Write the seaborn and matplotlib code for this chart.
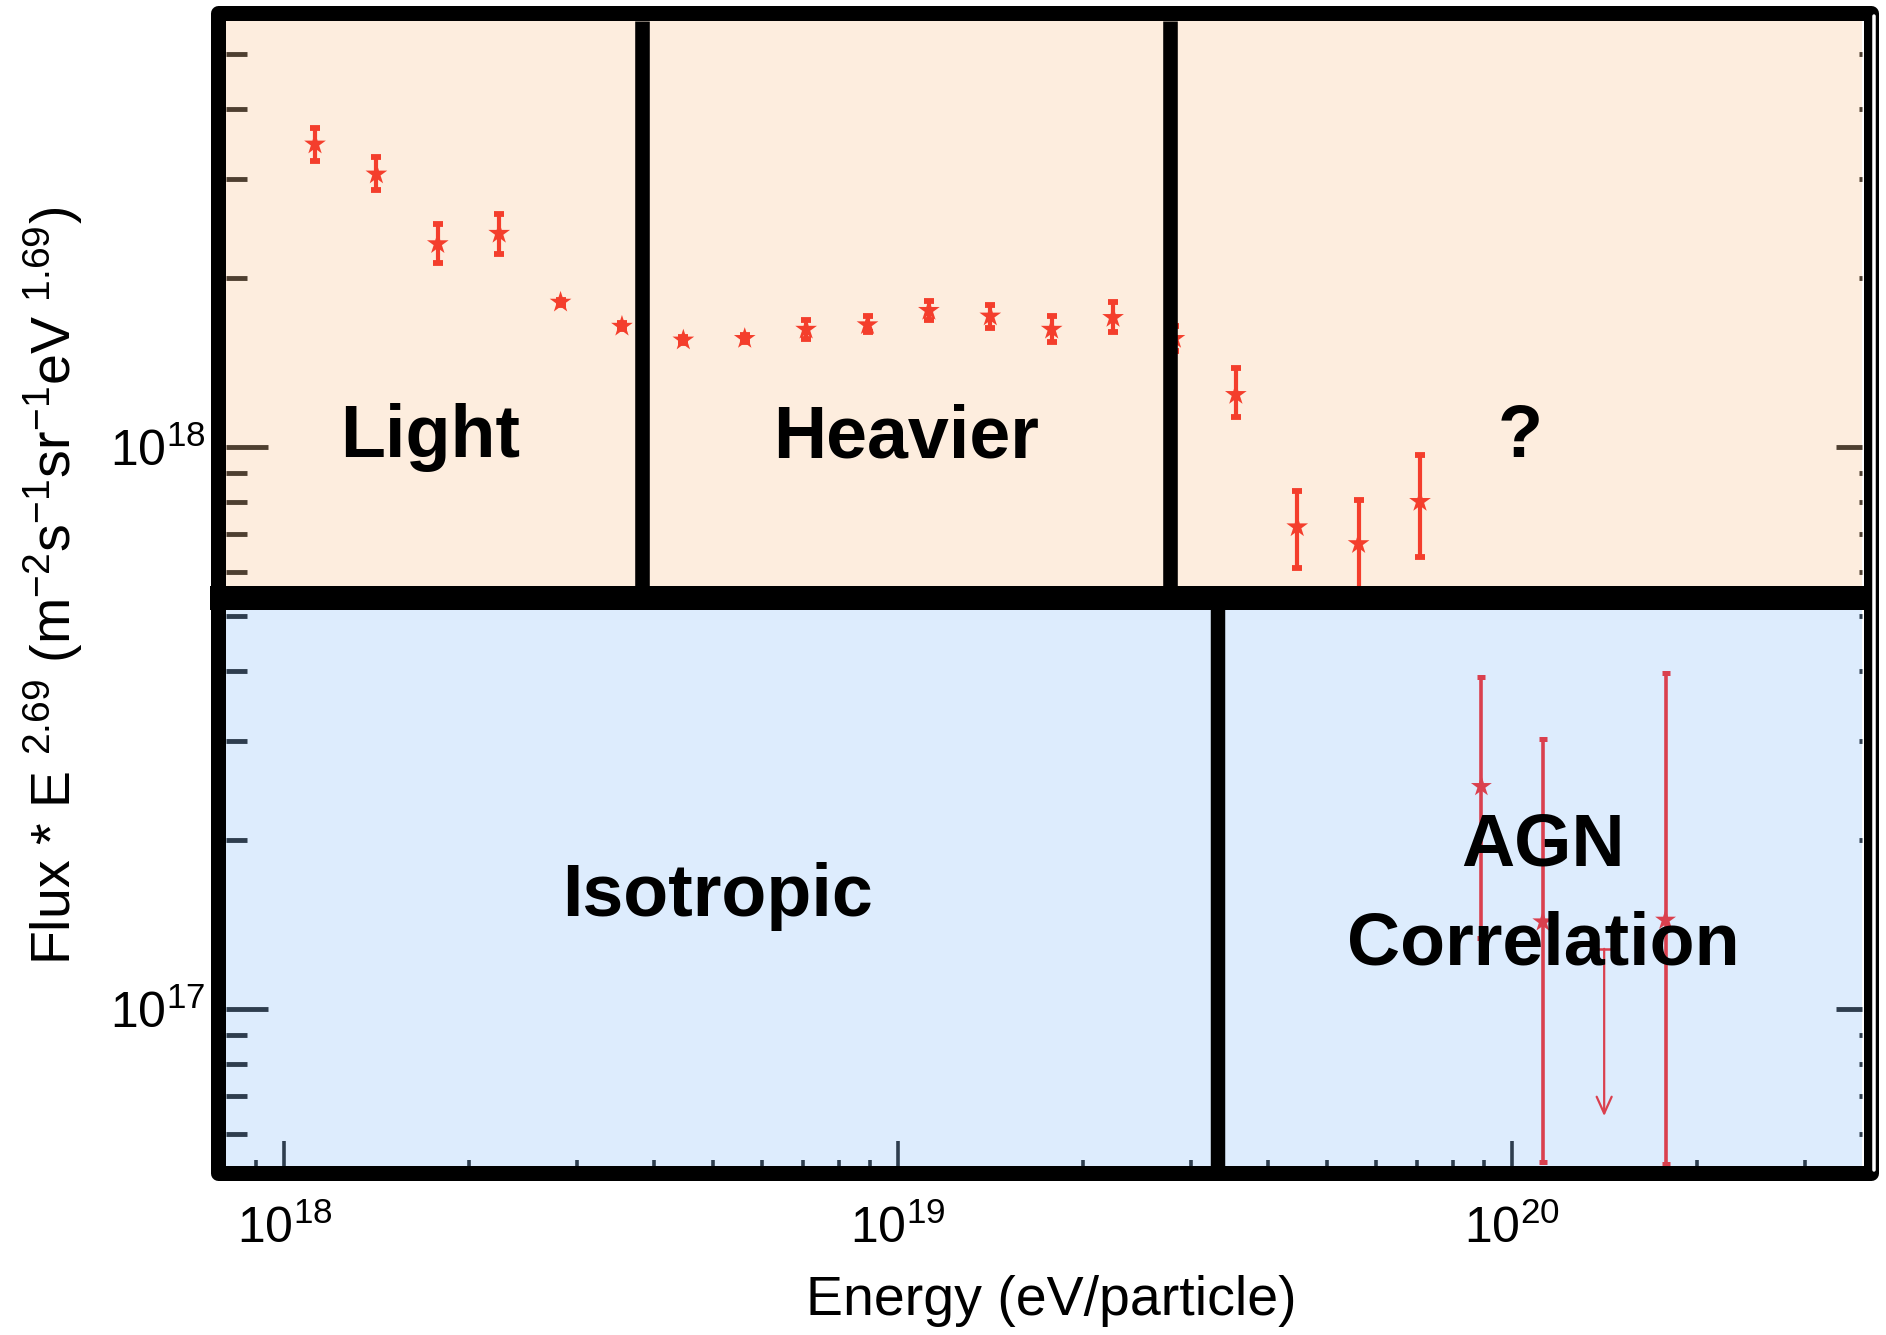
import numpy as np
import pandas as pd
import matplotlib
matplotlib.use("Agg")
import matplotlib.pyplot as plt
import seaborn as sns
from matplotlib.patches import Rectangle
from matplotlib.lines import Line2D
from matplotlib.ticker import LogLocator, NullFormatter, LogFormatterSciNotation

# ---------------------------------------------------------------------------
# Data
# ---------------------------------------------------------------------------
# Energy spectrum, log10(E/eV) bin centres
spec_log_e = [18.05, 18.15, 18.25, 18.35, 18.45, 18.55, 18.65, 18.75, 18.85, 18.95,
              19.05, 19.15, 19.25, 19.35, 19.45, 19.55, 19.65, 19.75, 19.85]
# Flux * E^2.69
spec_flux = [3.46e18, 3.06e18, 2.30e18, 2.40e18, 1.81e18, 1.64e18, 1.55e18, 1.56e18, 1.62e18, 1.65e18,
             1.75e18, 1.71e18, 1.62e18, 1.70e18, 1.56e18, 1.24e18, 7.21e17, 6.73e17, 8.00e17]
spec_hi = [3.70e18, 3.28e18, 2.49e18, 2.60e18, 1.83e18, 1.66e18, 1.57e18, 1.58e18, 1.68e18, 1.71e18,
           1.82e18, 1.79e18, 1.71e18, 1.81e18, 1.64e18, 1.38e18, 8.36e17, 8.04e17, 9.69e17]
spec_lo = [3.23e18, 2.87e18, 2.13e18, 2.21e18, 1.79e18, 1.62e18, 1.53e18, 1.54e18, 1.56e18, 1.60e18,
           1.68e18, 1.63e18, 1.54e18, 1.60e18, 1.48e18, 1.13e18, 6.10e17, 5.58e17, 6.38e17]

# AGN-correlated events
agn_log_e = [19.95, 20.05, 20.25]
agn_flux = [2.49e17, 1.43e17, 1.44e17]
agn_hi = [3.90e17, 3.03e17, 3.97e17]
agn_lo = [1.34e17, 5.35e16, 5.30e16]

# Upper limit
ul_log_e = [20.15]
ul_flux = [1.28e17]
ul_arrow_end = [6.45e16]

# Region boundaries (eV)
top_bounds = [3.83e18, 2.77e19]
bottom_bounds = [3.32e19]

# Region names
top_names = ["Light", "Heavier", "?"]
bottom_names = ["Isotropic", "AGN", "Correlation"]

# ---------------------------------------------------------------------------
# Style
# ---------------------------------------------------------------------------
sns.set_theme(style="white")
plt.rcParams["font.family"] = ["Liberation Sans", "DejaVu Sans"]
plt.rcParams["mathtext.fontset"] = "custom"
plt.rcParams["mathtext.rm"] = "Liberation Sans"
plt.rcParams["mathtext.it"] = "Liberation Sans:italic"
plt.rcParams["mathtext.bf"] = "Liberation Sans:bold"
plt.rcParams["axes.unicode_minus"] = True
plt.rcParams["text.color"] = "black"
plt.rcParams["axes.labelcolor"] = "black"
plt.rcParams["xtick.labelcolor"] = "black"
plt.rcParams["ytick.labelcolor"] = "black"

W, H = 1886, 1335
fig = plt.figure(figsize=(W / 100, H / 100), dpi=100)
fig.patch.set_facecolor("white")


def box(x0, y0, x1, y1):
    """pixel box (top-left origin) -> figure fraction rect"""
    return [x0 / W, 1 - y1 / H, (x1 - x0) / W, (y1 - y0) / H]


PEACH = "#FDEDDE"
BLUE = "#DDECFD"
RED_TOP = "#F43E2C"
RED_BOT = "#DA404E"

XLIM = (10 ** 17.905, 10 ** 20.570)

ax_top = fig.add_axes(box(226, 21, 1862, 586))
ax_bot = fig.add_axes(box(226, 610, 1862, 1166))

panels = [
    (ax_top, PEACH, (10 ** 17.7528, 10 ** 18.7582), "#4E3F30"),
    (ax_bot, BLUE, (10 ** 16.7208, 10 ** 17.7101), "#2E3D4E"),
]

for ax, bg, ylim, tcol in panels:
    ax.set_facecolor(bg)
    ax.set_xscale("log")
    ax.set_yscale("log")
    ax.set_xlim(*XLIM)
    ax.set_ylim(*ylim)
    for s in ax.spines.values():
        s.set_visible(False)
    ax.yaxis.set_major_locator(LogLocator(base=10, numticks=10))
    ax.yaxis.set_minor_locator(LogLocator(base=10, subs=np.arange(2, 10), numticks=20))
    ax.yaxis.set_minor_formatter(NullFormatter())
    ax.yaxis.set_major_formatter(LogFormatterSciNotation())
    ax.xaxis.set_major_locator(LogLocator(base=10, numticks=10))
    ax.xaxis.set_minor_locator(LogLocator(base=10, subs=np.arange(2, 10), numticks=20))
    ax.xaxis.set_minor_formatter(NullFormatter())
    ax.xaxis.set_major_formatter(LogFormatterSciNotation())
    ax.tick_params(axis="y", which="both", direction="in", left=True, right=False,
                   color=tcol, width=3.5, labelsize=36, pad=15, labelcolor="black")
    ax.tick_params(axis="y", which="major", length=30)
    ax.tick_params(axis="y", which="minor", length=15)
    ax.grid(False)

    # right-hand ticks (mostly hidden behind the frame)
    axr = ax.twinx()
    axr.set_yscale("log")
    axr.set_ylim(*ylim)
    for s in axr.spines.values():
        s.set_visible(False)
    axr.yaxis.set_major_locator(LogLocator(base=10, numticks=10))
    axr.yaxis.set_minor_locator(LogLocator(base=10, subs=np.arange(2, 10), numticks=20))
    axr.yaxis.set_major_formatter(NullFormatter())
    axr.yaxis.set_minor_formatter(NullFormatter())
    axr.tick_params(axis="y", which="both", direction="in", right=True, left=False,
                    color=tcol, width=3.5, labelright=False)
    axr.tick_params(axis="y", which="major", length=19)
    axr.tick_params(axis="y", which="minor", length=2.5)
    axr.grid(False)

ax_top.tick_params(axis="x", which="both", bottom=False, top=False, labelbottom=False)
ax_bot.tick_params(axis="x", which="both", direction="in", bottom=True, top=False,
                   color="#2E3D4E", width=2.6, labelsize=36, pad=28, labelcolor="black")
ax_bot.tick_params(axis="x", which="major", length=18)
ax_bot.tick_params(axis="x", which="minor", length=4.5)

# ---------------------------------------------------------------------------
# Spectrum (top panel)
# ---------------------------------------------------------------------------
spec = pd.DataFrame({
    "energy": 10 ** np.array(spec_log_e),
    "flux": spec_flux,
    "hi": spec_hi,
    "lo": spec_lo,
})
ax_top.errorbar(spec["energy"], spec["flux"],
                yerr=[spec["flux"] - spec["lo"], spec["hi"] - spec["flux"]],
                fmt="none", ecolor=RED_TOP, elinewidth=3.0, capsize=3.4, capthick=4.2, zorder=3)
sns.scatterplot(data=spec, x="energy", y="flux", ax=ax_top, marker="*", s=270,
                color=RED_TOP, edgecolor="none", linewidth=0, zorder=4, legend=False)

# ---------------------------------------------------------------------------
# AGN correlation (bottom panel)
# ---------------------------------------------------------------------------
agn = pd.DataFrame({
    "energy": 10 ** np.array(agn_log_e),
    "flux": agn_flux,
    "hi": agn_hi,
    "lo": agn_lo,
})
ax_bot.errorbar(agn["energy"], agn["flux"],
                yerr=[agn["flux"] - agn["lo"], agn["hi"] - agn["flux"]],
                fmt="none", ecolor=RED_BOT, elinewidth=2.6, capsize=3.0, capthick=3.6, zorder=3)
sns.scatterplot(data=agn, x="energy", y="flux", ax=ax_bot, marker="*", s=250,
                color=RED_BOT, edgecolor="none", linewidth=0, zorder=4, legend=False)

# upper limit with a downward arrow
for le, f, f_end in zip(ul_log_e, ul_flux, ul_arrow_end):
    ax_bot.annotate("", xy=(10 ** le, f_end), xytext=(10 ** le, f),
                    arrowprops=dict(arrowstyle="->,head_length=1.0,head_width=0.45",
                                    color=RED_BOT, lw=1.6, shrinkA=0, shrinkB=0),
                    zorder=3)
    ax_bot.plot([10 ** le], [f], marker="_", markersize=17, mew=1.8, color=RED_BOT, zorder=3)

for ax in (ax_top, ax_bot):
    ax.set_xlabel("")
    ax.set_ylabel("")

# ---------------------------------------------------------------------------
# Region dividers and names
# ---------------------------------------------------------------------------
for xb in top_bounds:
    ax_top.axvline(xb, color="black", lw=10.5, zorder=5, solid_capstyle="butt")
for xb in bottom_bounds:
    ax_bot.axvline(xb, color="black", lw=10.4, zorder=5, solid_capstyle="butt")

label_kw = dict(fontsize=53, fontweight="bold", color="black", ha="center", va="baseline", zorder=6)
top_label_x = [10 ** 18.238, 10 ** 19.012, 10 ** 20.013]
for name, xl in zip(top_names, top_label_x):
    ax_top.text(xl, 10 ** 17.982, name, **label_kw)

ax_bot.text(10 ** 18.706, 10 ** 17.165, bottom_names[0], **label_kw)
ax_bot.text(10 ** 20.051, 10 ** 17.255, bottom_names[1], **label_kw)
ax_bot.text(10 ** 20.051, 10 ** 17.079, bottom_names[2], **label_kw)

# ---------------------------------------------------------------------------
# Frame: outer border and the bar between panels
# ---------------------------------------------------------------------------
def px_to_fig(x, y):
    return x / W, 1 - y / H

mx0, my0 = px_to_fig(210, 610)
fig.add_artist(Rectangle((mx0, my0), (1870 - 210) / W, 24 / H, transform=fig.transFigure,
                         facecolor="black", edgecolor="none", zorder=10))

fx0, fy0 = px_to_fig(217.5, 1173)
fig.add_artist(Rectangle((fx0, fy0), (1870.5 - 217.5) / W, (1173 - 13) / H,
                         transform=fig.transFigure, facecolor="none", edgecolor="black",
                         linewidth=15 * 72 / 100, joinstyle="round", zorder=11))
wx, wy0 = px_to_fig(1873.5, 1170)
_, wy1 = px_to_fig(1873.5, 16)
fig.add_artist(Line2D([wx, wx], [wy0, wy1], transform=fig.transFigure,
                      color="white", lw=3.5 * 72 / 100, zorder=12))

# ---------------------------------------------------------------------------
# Axis titles
# ---------------------------------------------------------------------------
tx, ty = px_to_fig(1051, 1315)
fig.text(tx, ty, "Energy (eV/particle)", fontsize=40, ha="center", va="baseline", color="black")

lx, ly = px_to_fig(53, 586)
fig.text(lx, ly,
         r"Flux * E $^{2.69}$ (m$^{-2}$s$^{-1}$sr$^{-1}$eV $^{1.69}$)",
         fontsize=40, rotation=90, ha="center", va="center", color="black")

fig.savefig("out.png", dpi=100, facecolor="white")
